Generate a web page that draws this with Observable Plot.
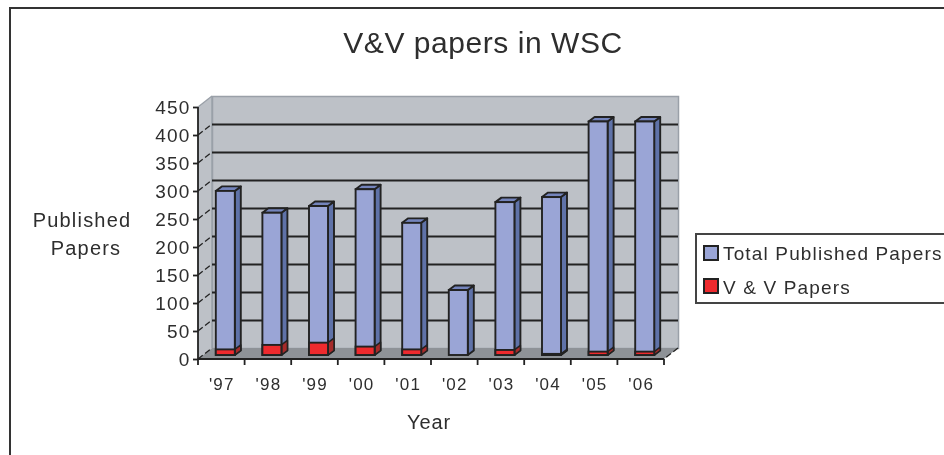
<!DOCTYPE html>
<html>
<head>
<meta charset="utf-8">
<script src="https://cdn.jsdelivr.net/npm/d3@7"></script>
<script src="https://cdn.jsdelivr.net/npm/@observablehq/plot@0.6"></script>
<style>
html,body{margin:0;padding:0;background:#fff;overflow:hidden;}
#wrap{position:relative;width:944px;height:455px;overflow:hidden;font-family:"Liberation Sans",Arial,sans-serif;color:#2e2e2e;filter:blur(0.5px);}
#wrap svg{position:absolute;left:0;top:0;}
#border{position:absolute;left:8.5px;top:6.5px;width:960px;height:480px;border:2px solid #333;}
.t{position:absolute;white-space:nowrap;transform:translateX(-50%);}
#legend{position:absolute;left:695px;top:233px;width:300px;height:67px;border:2px solid #444;background:#fff;}
.sw{position:absolute;left:6px;width:12px;height:12px;border:2px solid #222;}
.lt{position:absolute;left:26px;font-size:19px;letter-spacing:1.15px;white-space:nowrap;}
</style>
</head>
<body>
<div id="wrap">
  <div id="border"></div>
  <div id="chart"></div>
  <div class="t" style="left:483px;top:26px;font-size:30px;letter-spacing:0.55px">V&amp;V papers in WSC</div>
  <div class="t" style="left:82px;top:209px;font-size:20px;letter-spacing:1.2px">Published</div>
  <div class="t" style="left:86px;top:237px;font-size:20px;letter-spacing:1.2px">Papers</div>
  <div class="t" style="left:429px;top:411px;font-size:20px;letter-spacing:0.9px">Year</div>
  <div id="legend">
    <div class="sw" style="top:10px;background:#9aa5d6"></div>
    <div class="lt" style="top:8px">Total Published Papers</div>
    <div class="sw" style="top:43px;background:#ee2a2e"></div>
    <div class="lt" style="top:42px">V &amp; V Papers</div>
  </div>
</div>
<script>
const years = ["'97","'98","'99","'00","'01","'02","'03","'04","'05","'06"];
const totalPapers = [293,254,266,296,236,116,273,282,417,417];
const vvPapers = [10,18,22,15,10,0,9,2,6,6];
const yTicks = [0,50,100,150,200,250,300,350,400,450];
const gridTicks = [50,100,150,200,250,300,350,400];

const table = years.map((year,i)=>({year,total:totalPapers[i],vv:vvPapers[i]}));

// 3-D offsets of the chart (pixels)
const wallDx = 14, wallDy = -11;
const barDx = 4, barDy = -4, depthDx = 6, depthDy = -4.5, barInset = 13.8;
const ink = "#222";

function el(name, attrs){
  const n = document.createElementNS("http://www.w3.org/2000/svg", name);
  for (const k in attrs) n.setAttribute(k, attrs[k]);
  return n;
}
const poly = (pts, fill, stroke, sw) => el("polygon", {points: pts.map(p=>p.join(",")).join(" "), fill, stroke: stroke||"none", "stroke-width": sw||0, "stroke-linejoin":"round"});
const seg = (x1,y1,x2,y2,stroke,sw) => el("line",{x1,y1,x2,y2,stroke,"stroke-width":sw});
const bandOf = (x) => typeof x.bandwidth === "function" ? x.bandwidth() : x.bandwidth;

// side walls, floor and slanted grid ticks of the 3-D box
function box3d(index, {x, y}){
  const g = el("g",{});
  const bw = bandOf(x);
  const x0 = x(years[0]), x1 = x(years[years.length-1]) + bw;
  const y0 = y(0), yT = y(450);
  g.append(poly([[x0,y0],[x0,yT],[x0+wallDx,yT+wallDy],[x0+wallDx,y0+wallDy]],"#bdc1c7"));
  g.append(poly([[x0,y0],[x1,y0],[x1+wallDx,y0+wallDy],[x0+wallDx,y0+wallDy]],"#8e9297"));
  for (const v of yTicks){
    const s = seg(x0,y(v),x0+wallDx,y(v)+wallDy, v===450 ? "#9aa0a8" : ink, 1.3);
    if (v!==450) s.setAttribute("stroke-dasharray","6 3");
    g.append(s);
  }
  g.append(seg(x0+wallDx,yT+wallDy,x0+wallDx,y0+wallDy,"#9aa0a8",1.5));
  const corner = seg(x1+wallDx,y0+wallDy,x1,y0,ink,1.3);
  corner.setAttribute("stroke-dasharray","6 3");
  g.append(corner);
  g.append(seg(x0,yT,x0,y0+6,ink,1.8));
  g.append(seg(x0,y0,x1,y0,ink,1.8));
  years.forEach((yr)=>{
    const xr = x(yr)+bw;
    g.append(seg(xr,y0,xr,y0+6,ink,1.8));
  });
  return g;
}

// side and top faces of each bar
function barDepth(index, {x, y}){
  const g = el("g",{});
  const bw = bandOf(x);
  for (const d of table){
    const xr = x(d.year)+bw-barInset+barDx, xl = x(d.year)+barInset+barDx;
    const base = y(0)+barDy, top = y(d.total)+barDy, vtop = y(d.vv)+barDy;
    g.append(poly([[xr,base],[xr,top],[xr+depthDx,top+depthDy],[xr+depthDx,base+depthDy]],"#5f72a8",ink,1.9));
    g.append(poly([[xl,top],[xr,top],[xr+depthDx,top+depthDy],[xl+depthDx,top+depthDy]],"#7484bc",ink,1.9));
    if (d.vv>0) g.append(poly([[xr,base],[xr,vtop],[xr+depthDx,vtop+depthDy],[xr+depthDx,base+depthDy]],"#a62a2a",ink,1.5));
  }
  return g;
}

const chart = Plot.plot({
  width: 944, height: 455,
  marginLeft: 198, marginRight: 280, marginTop: 107, marginBottom: 96,
  style: {fontFamily: '"Liberation Sans",Arial,sans-serif', color: "#2e2e2e", background: "transparent", letterSpacing: "1.2px", overflow:"visible"},
  x: {domain: years, padding: 0, round: false, label: null},
  y: {domain: [0,450], label: null},
  marks: [
    Plot.frame({fill:"#bdc1c7", stroke:"#9aa0a8", strokeWidth:1.5, dx:wallDx, dy:wallDy}),
    box3d,
    Plot.ruleY(gridTicks,{stroke:ink, strokeWidth:1.9, dx:wallDx, dy:wallDy}),
    barDepth,
    Plot.barY(table,{x:"year", y:"total", fill:"#9aa5d6", stroke:ink, strokeWidth:1.9, insetLeft:barInset, insetRight:barInset, dx:barDx, dy:barDy}),
    Plot.barY(table.filter(d=>d.vv>0),{x:"year", y:"vv", fill:"#ee2a2e", stroke:ink, strokeWidth:1.9, insetLeft:barInset, insetRight:barInset, dx:barDx, dy:barDy}),
    Plot.axisY({ticks:yTicks, tickSize:5, tickPadding:3, fontSize:19, stroke:ink, strokeWidth:1.8, fill:"#2e2e2e", label:null}),
    Plot.axisX({tickSize:0, tickPadding:18, fontSize:17, fill:"#2e2e2e", label:null})
  ]
});
document.getElementById("chart").append(chart);
</script>
</body>
</html>
